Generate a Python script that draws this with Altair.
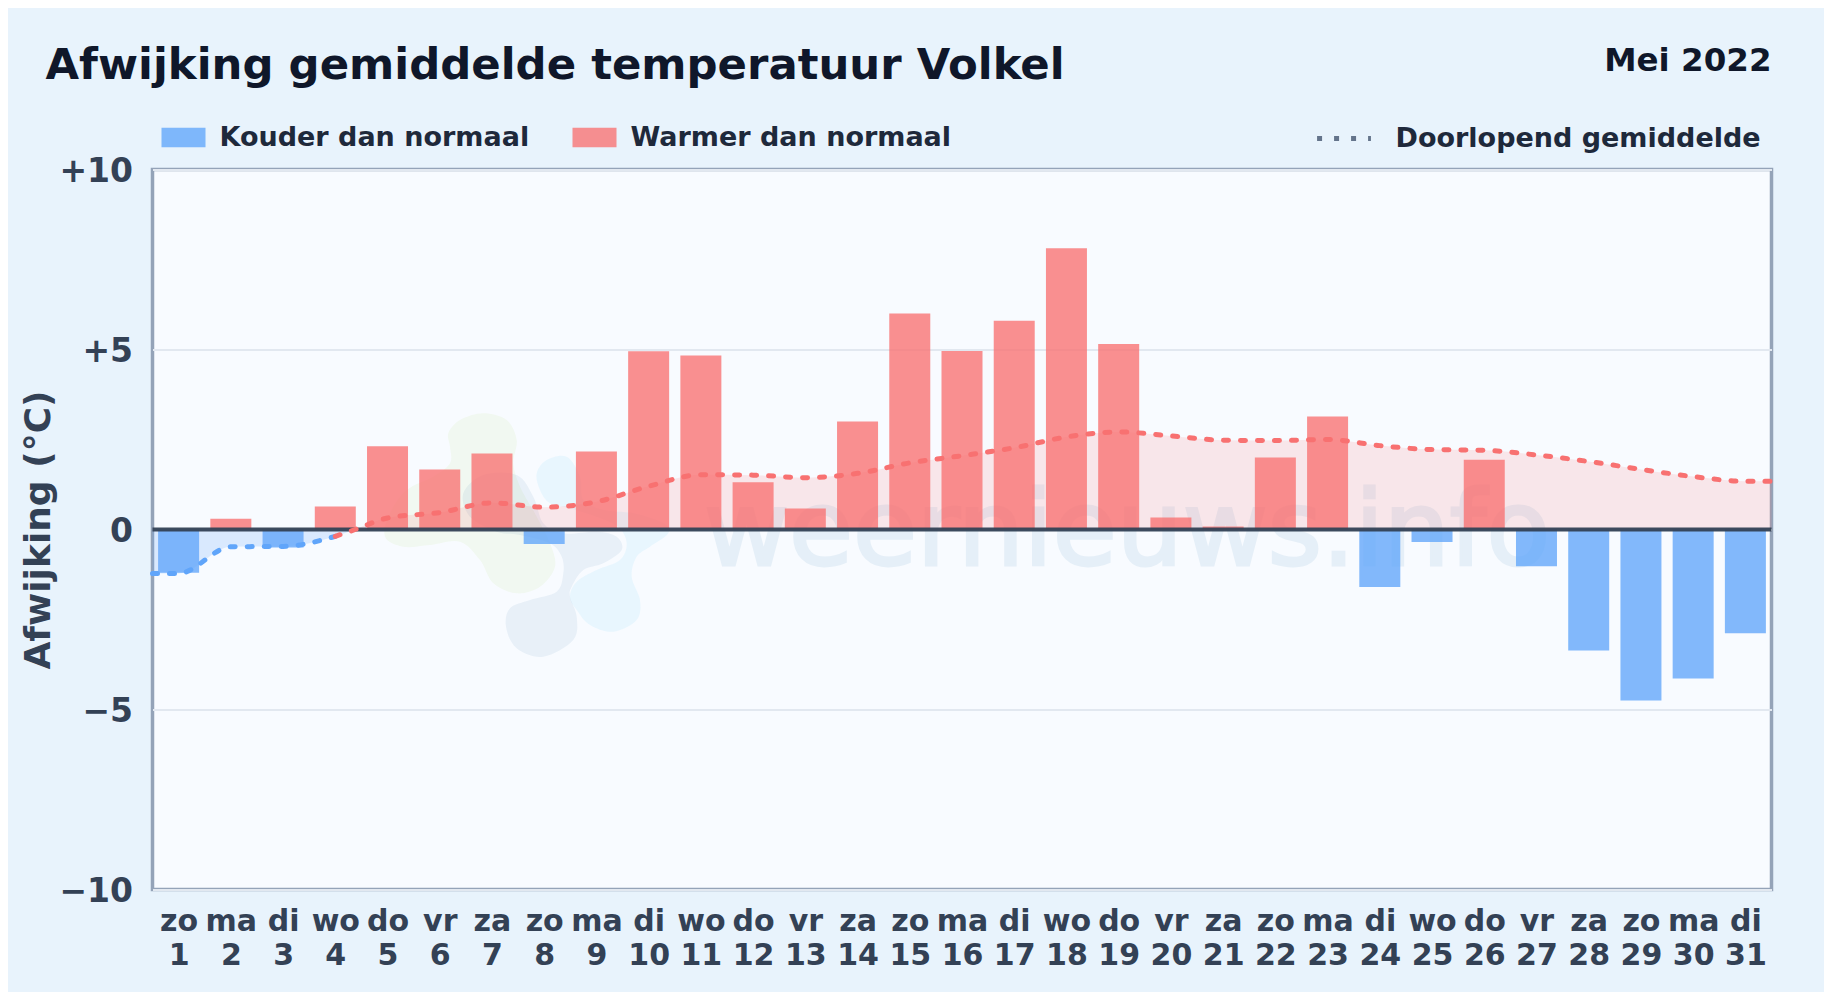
import altair as alt
import pandas as pd

weekdays = ["zo","ma","di","wo","do","vr","za"]
days = list(range(1, 32))
deviation = [-1.2,0.3,-0.5,0.64,2.31,1.67,2.11,-0.4,2.17,4.95,4.83,1.31,0.58,3.0,6.0,4.96,5.8,7.81,5.15,
             0.33,0.08,2.0,3.14,-1.6,-0.35,1.94,-1.02,-3.36,-4.75,-4.14,-2.88]
cold_x = [0.5,1,2,3,4]
cold_y = [-1.22,-1.22,-0.48,-0.47,-0.19]
warm_x = [4,4.38,5,6,7,8,9,10,11,12,13,14,15,16,17,18,19,20,21,22,23,24,25,26,27,28,29,30,31,31.5]
warm_y = [-0.19,0,0.32,0.47,0.74,0.62,0.77,1.2,1.52,1.51,1.44,1.56,1.85,2.05,2.27,2.57,2.71,2.6,2.48,2.47,2.5,2.33,2.22,2.2,2.07,1.89,1.67,1.47,1.34,1.34]
cold_area_x = [0.5,1,2,3,4,4.38]
cold_area_y = [-1.22,-1.22,-0.48,-0.47,-0.19,0]
COLD = "Kouder dan normaal"; WARM = "Warmer dan normaal"; AVG = "Doorlopend gemiddelde"

bars = pd.DataFrame({"day": days, "v": deviation, "kind": [WARM if v >= 0 else COLD for v in deviation]})
cold = pd.DataFrame({"day": cold_x, "v": cold_y, "s": AVG})
warm = pd.DataFrame({"day": warm_x, "v": warm_y, "s": AVG})
cold_area = pd.DataFrame({"day": cold_area_x, "v": cold_area_y})
warm_area = warm[warm.day >= 4.38]

FONT = "DejaVu Sans"
X = alt.X("day:Q", scale=alt.Scale(domain=[0.5, 31.5], nice=False, zero=False, padding=0),
          axis=alt.Axis(values=days, title=None, grid=False, domain=False, ticks=False,
                        labelExpr="[['zo','ma','di','wo','do','vr','za'][(datum.value-1)%7], datum.value]",
                        labelFontSize=30, labelFontWeight="bold", labelColor="#334155", labelPadding=17,
                        labelLineHeight=34, labelFlush=False, labelOverlap=False, labelBound=False))
Y = alt.Y("v:Q", scale=alt.Scale(domain=[-10, 10], nice=False),
          axis=alt.Axis(values=[-10,-5,0,5,10], title="Afwijking (°C)", titleFontSize=36, titleFontWeight="bold",
                        titleColor="#334155", titlePadding=1, domain=False, ticks=False,
                        gridColor="#e2e8f0", gridWidth=2, labelOffset=2,
                        labelExpr="datum.value>0?'+'+datum.value:datum.value<0?'\u2212'+abs(datum.value):'0'",
                        labelFontSize=33, labelFontWeight="bold", labelColor="#334155", labelPadding=20))

watermark = alt.Chart(pd.DataFrame({"t": ["weernieuws.info"]})).mark_text(
    font=FONT, fontSize=104, color="#2f7fb5", stroke="#2f7fb5", strokeWidth=3, opacity=0.09, align="left", baseline="alphabetic"
).encode(text="t:N", x=alt.value(551.5), y=alt.value(395.5))

def smooth(pts):
    n = len(pts); d = f"M{pts[0][0]/3:.1f},{pts[0][1]/3:.1f}"
    for i in range(n):
        p0, p1, p2, p3 = pts[i-1], pts[i], pts[(i+1)%n], pts[(i+2)%n]
        c1 = (p1[0]+(p2[0]-p0[0])/6, p1[1]+(p2[1]-p0[1])/6)
        c2 = (p2[0]-(p3[0]-p1[0])/6, p2[1]-(p3[1]-p1[1])/6)
        d += f"C{c1[0]/3:.1f},{c1[1]/3:.1f} {c2[0]/3:.1f},{c2[1]/3:.1f} {p2[0]/3:.1f},{p2[1]/3:.1f}"
    return d + "Z"

blob_green = [(235,100),(270,60),(340,40),(410,60),(440,120),(430,190),(450,260),(500,350),(540,430),(555,500),(510,560),(440,580),(370,550),(330,480),(270,425),(180,435),(100,440),(45,410),(60,340),(110,270),(190,230),(240,190),(240,140)]
blob_slate = [(280,280),(340,225),(440,225),(490,290),(520,370),(580,400),(680,395),(740,410),(755,450),(700,490),(640,510),(605,560),(600,590),(620,650),(610,720),(520,770),(440,745),(408,680),(420,625),(480,600),(560,575),(580,520),(575,470),(540,430),(450,405),(380,395),(300,350)]
blob_sky = [(500,220),(530,180),(590,170),(630,230),(640,300),(700,330),(790,340),(880,370),(895,400),(840,440),(800,470),(785,530),(810,600),(800,660),(730,695),(660,675),(620,630),(600,590),(620,545),(680,510),(750,480),(770,430),(745,380),(680,350),(600,325),(540,310),(510,270)]
def blob(path, colour, op):
    return alt.Chart(pd.DataFrame({"k": [1]})).mark_point(shape=smooth(path), size=4, filled=True, color=colour, opacity=op,
        strokeWidth=0).encode(x=alt.value(217.5), y=alt.value(230.5))

area_c = alt.Chart(cold_area).mark_area(color="#60a5fa", opacity=0.2, interpolate="monotone").encode(x=X, y=Y, y2=alt.Y2(datum=0))
area_w = alt.Chart(warm_area).mark_area(color="#f87171", opacity=0.15, interpolate="monotone").encode(x=X, y=Y, y2=alt.Y2(datum=0))

bar = alt.Chart(bars).mark_bar(size=41, opacity=0.78).encode(
    x=X, y=Y, y2=alt.Y2(datum=0),
    color=alt.Color("kind:N", scale=alt.Scale(domain=[COLD, WARM], range=["#60a5fa", "#f87171"]),
        legend=alt.Legend(title=None, orient="none", legendX=9, legendY=-54, direction="horizontal", columns=2,
                          columnPadding=43, symbolType="M-1,-0.44H1V0.44H-1Z", symbolSize=1936, symbolStrokeWidth=0,
                          labelOffset=14, labelFontSize=27, labelFontWeight="bold", labelColor="#1e293b", labelLimit=500)))
zero = alt.Chart(pd.DataFrame({"v": [0]})).mark_rule(color="#334155", strokeWidth=4, opacity=0.95).encode(y=Y)

dash = alt.StrokeDash("s:N", scale=alt.Scale(domain=[AVG], range=[[5, 12]]),
        legend=alt.Legend(title=None, orient="none", legendX=1162, legendY=-60.5, symbolType="stroke", symbolSize=2900,
                          symbolStrokeWidth=5, symbolStrokeColor="#64748b", labelOffset=22, labelFontSize=27,
                          labelFontWeight="bold", labelColor="#1e293b", labelLimit=500))
line_c = alt.Chart(cold).mark_line(color="#60a5fa", strokeWidth=5, strokeCap="round", interpolate="monotone").encode(x=X, y=Y, strokeDash=dash)
line_w = alt.Chart(warm).mark_line(color="#f87171", strokeWidth=5, strokeCap="round", interpolate="monotone").encode(x=X, y=Y, strokeDash=dash)

month = alt.Chart(pd.DataFrame({"t": ["Mei 2022"]})).mark_text(
    font=FONT, fontSize=32.5, fontWeight="bold", color="#0f172a", align="right", baseline="alphabetic"
).encode(text="t:N", x=alt.value(1619), y=alt.value(-99))

chart = alt.layer(watermark, blob(blob_green,"#84cc16",0.06), blob(blob_slate,"#1e6a9a",0.07), blob(blob_sky,"#38bdf8",0.08),
                  area_c, area_w, bar, zero, line_c, line_w, month).properties(
    width=1619, height=720,
    title=alt.TitleParams("Afwijking gemiddelde temperatuur Volkel", anchor="start", frame="group", fontSize=43.4,
                          fontWeight="bold", color="#0f172a", font=FONT, dx=-107, dy=77.5, offset=0, baseline="alphabetic"),
    padding={"left": 144.5, "top": 161.5, "right": 52.5, "bottom": 102.5},
    autosize=alt.AutoSizeParams(type="none"),
    background="#e8f3fc",
).resolve_scale(color="independent").configure(font=FONT).configure_view(
    fill="#f8fbff", stroke="#94a3b8", strokeWidth=3.5)

chart.save("out.html", embed_options={"renderer": "svg", "actions": False})
